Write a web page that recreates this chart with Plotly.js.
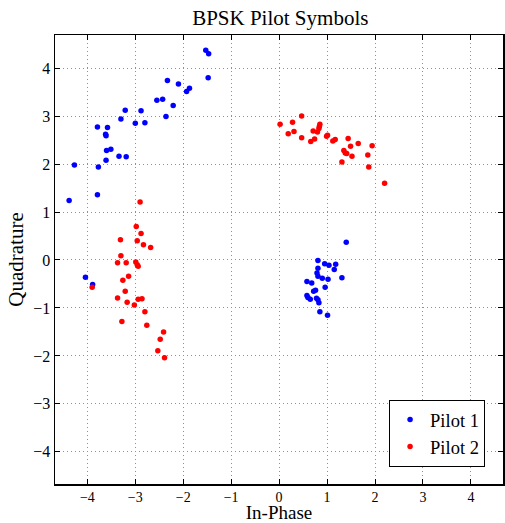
<!DOCTYPE html>
<html>
<head>
<meta charset="utf-8">
<script src="https://cdn.plot.ly/plotly-3.0.1.min.js"></script>
<style>html,body{margin:0;padding:0;background:#fff}#chart{width:505px;height:523px}</style>
</head>
<body>
<div id="chart"></div>
<script>
const chartTitle = "BPSK Pilot Symbols";
const xTitle = "In-Phase";
const yTitle = "Quadrature";
const seriesNames = ["Pilot 1", "Pilot 2"];
const tickVals = [-4, -3, -2, -1, 0, 1, 2, 3, 4];

const pilot1I = [-1.53, -1.47, -1.48, -2.33, -2.10, -1.93, -1.87, -2.55, -2.43, -2.21,
  -3.21, -2.88, -2.36, -3.30, -3.00, -2.80, -3.79, -3.58, -3.62, -3.61,
  -3.60, -3.51, -3.34, -3.19, -3.61, -4.27, -3.77, -4.38, -3.79, -4.04, -3.89,
  1.40, 0.81, 0.95, 1.04, 1.18, 0.81, 1.15, 0.79, 0.81, 0.90,
  1.02, 1.31, 0.58, 0.68, 0.96, 0.76, 0.72, 0.58, 0.60, 0.65,
  0.78, 0.81, 0.83, 0.85, 1.01];
const pilot1Q = [4.37, 4.30, 3.80, 3.74, 3.67, 3.51, 3.58, 3.33, 3.35, 3.22,
  3.12, 3.11, 2.99, 2.94, 2.85, 2.86, 2.77, 2.76, 2.62, 2.59,
  2.28, 2.31, 2.16, 2.15, 2.08, 1.98, 1.94, 1.24, 1.36, -0.36, -0.51,
  0.37, -0.01, -0.08, -0.11, -0.09, -0.17, -0.20, -0.27, -0.34, -0.38,
  -0.40, -0.37, -0.45, -0.48, -0.57, -0.63, -0.65, -0.74, -0.78, -0.82,
  -0.80, -0.83, -0.89, -1.08, -1.15];

const pilot2I = [-2.90, -2.98, -2.88, -3.31, -2.96, -2.83, -2.68, -3.30, -3.37, -3.19,
  -2.99, -2.96, -2.94, -3.90, -3.14, -3.26, -3.21, -3.37, -3.17, -2.94,
  -2.86, -3.02, -2.80, -3.28, -2.76, -2.41, -2.48, -2.53, -2.39,
  0.47, 0.02, 0.28, 0.19, 0.31, 0.47, 0.85, 0.84, 0.83, 0.71,
  0.80, 0.74, 0.66, 0.99, 1.01, 1.12, 1.17, 1.44, 1.49, 1.65,
  1.35, 1.38, 1.41, 1.52, 1.31, 1.94, 1.85, 1.87, 2.20];
const pilot2Q = [1.21, 0.70, 0.55, 0.42, 0.40, 0.32, 0.26, 0.09, -0.06, -0.06,
  -0.04, -0.10, -0.13, -0.57, -0.34, -0.42, -0.65, -0.79, -0.88, -0.82,
  -0.81, -0.94, -1.08, -1.28, -1.36, -1.50, -1.65, -1.89, -2.04,
  3.00, 2.83, 2.87, 2.63, 2.68, 2.55, 2.83, 2.78, 2.74, 2.69,
  2.67, 2.52, 2.47, 2.58, 2.60, 2.48, 2.51, 2.53, 2.37, 2.43,
  2.28, 2.23, 2.22, 2.16, 2.04, 2.38, 2.19, 1.94, 1.60];

const serif = "'Liberation Serif', 'DejaVu Serif', serif";

const traces = [
  {x: pilot1I, y: pilot1Q, name: seriesNames[0], type: "scatter", mode: "markers",
   marker: {color: "#0000ff", size: 5.5}},
  {x: pilot2I, y: pilot2Q, name: seriesNames[1], type: "scatter", mode: "markers",
   marker: {color: "#ff0000", size: 5.5}}
];

const axisCommon = {
  tickvals: tickVals,
  ticktext: tickVals.map(v => v < 0 ? "\u2212" + Math.abs(v) : String(v)),
  ticks: "inside", ticklen: 5, tickcolor: "#000", tickwidth: 1,
  showline: true, linecolor: "#000", linewidth: 1.5, mirror: "ticks",
  showgrid: true, gridcolor: "#909090", griddash: "1px,3px", gridwidth: 1,
  zeroline: false,
  tickfont: {family: serif, size: 16, color: "#000"}
};

const layout = {
  width: 505, height: 523,
  paper_bgcolor: "#fff", plot_bgcolor: "#fff",
  margin: {l: 55, r: 2, t: 35, b: 39},
  title: {text: chartTitle, font: {family: serif, size: 21, color: "#000"}, x: 0.555, xanchor: "center", y: 0.966, yanchor: "middle"},
  xaxis: Object.assign({}, axisCommon, {range: [-4.675, 4.67],
    tickfont: {family: serif, size: 14, color: "#000"},
    title: {text: xTitle, font: {family: serif, size: 19, color: "#000"}, standoff: 2}}),
  yaxis: Object.assign({}, axisCommon, {range: [-4.67, 4.69],
    title: {text: yTitle, font: {family: serif, size: 21, color: "#000"}, standoff: 4}}),
  showlegend: true,
  legend: {x: 0.96, y: 0.038, xanchor: "right", yanchor: "bottom",
    bgcolor: "#fff", bordercolor: "#000", borderwidth: 1,
    font: {family: serif, size: 18.5, color: "#000"}, itemwidth: 30, tracegroupgap: 0}
};

Plotly.newPlot("chart", traces, layout, {displayModeBar: false, staticPlot: true});
</script>
</body>
</html>
